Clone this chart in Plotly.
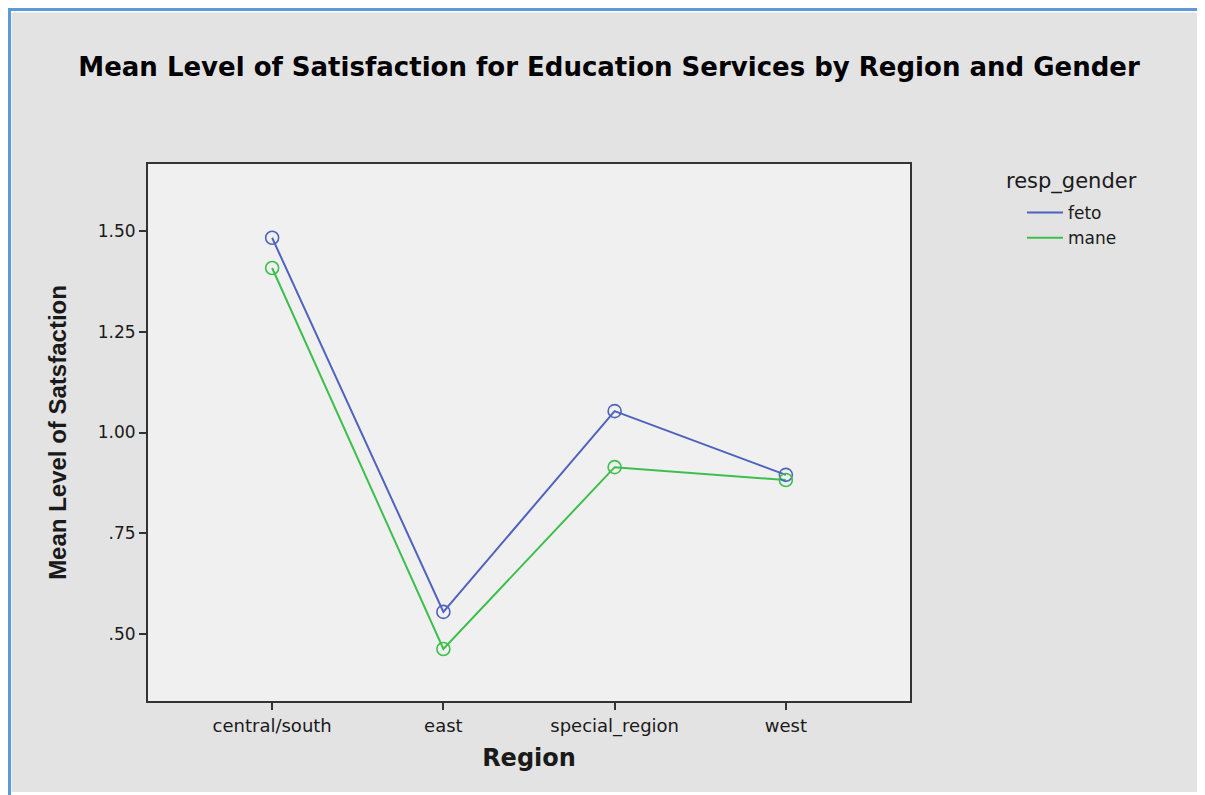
import plotly.graph_objects as go

regions = ["central/south", "east", "special_region", "west"]
feto = [1.483, 0.555, 1.053, 0.895]
mane = [1.408, 0.463, 0.914, 0.882]
y_ticks = [0.50, 0.75, 1.00, 1.25, 1.50]
y_tick_text = [".50", ".75", "1.00", "1.25", "1.50"]

OFF = 8  # page body margin
W, H = 1205 - OFF, 795 - OFF
# plot area in reference pixel coordinates
PL, PR, PT, PB = 148, 910, 164, 701
L, R, T, B = PL - OFF, W - (PR - OFF), PT - OFF, H - (PB - OFF)
PW, PH = W - L - R, H - T - B

def px_x(p):  # reference px -> paper
    return (p - OFF - L) / PW

def px_y(p):
    return (H - B - (p - OFF)) / PH

BLUE = "#4F63BE"
GREEN = "#3CBF4C"
wide = "DejaVu Sans, Verdana, sans-serif"
arial = "Liberation Sans, Arial, sans-serif"
txt = "#1a1a1a"

fig = go.Figure()
for name, vals, col in (("feto", feto, BLUE), ("mane", mane, GREEN)):
    fig.add_trace(go.Scatter(
        x=regions, y=vals, name=name, mode="lines",
        line=dict(color=col, width=2),
    ))
for name, vals, col in (("feto", feto, BLUE), ("mane", mane, GREEN)):
    fig.add_trace(go.Scatter(
        x=regions, y=vals, name=name, mode="markers", showlegend=False,
        marker=dict(symbol="circle-open", size=13, color=col, line=dict(width=1.6)),
    ))

shapes = [
    dict(type="rect", xref="paper", yref="paper", x0=px_x(0), x1=px_x(11.5), y0=px_y(800), y1=px_y(0),
         fillcolor="white", line=dict(width=0), layer="above"),
    dict(type="rect", xref="paper", yref="paper", x0=px_x(0), x1=px_x(1210), y0=px_y(12.5), y1=px_y(0),
         fillcolor="white", line=dict(width=0), layer="above"),
    dict(type="rect", xref="paper", yref="paper", x0=px_x(1203), x1=px_x(1210), y0=px_y(800), y1=px_y(0),
         fillcolor="white", line=dict(width=0), layer="above"),
    dict(type="rect", xref="paper", yref="paper", x0=px_x(0), x1=px_x(1210), y0=px_y(800), y1=px_y(792),
         fillcolor="white", line=dict(width=0), layer="above"),
    dict(type="rect", xref="paper", yref="paper", x0=px_x(0), x1=px_x(1210), y0=px_y(11), y1=px_y(0),
         fillcolor="#5B9BD5", line=dict(width=0), layer="above"),
    dict(type="rect", xref="paper", yref="paper", x0=px_x(0), x1=px_x(11), y0=px_y(800), y1=px_y(0),
         fillcolor="#5B9BD5", line=dict(width=0), layer="above"),
]

annotations = [
    dict(text="resp_gender", xref="paper", yref="paper", x=px_x(1004), y=px_y(181),
         xanchor="left", yanchor="middle", showarrow=False,
         font=dict(family=wide, size=21, color=txt)),
]

fig.update_layout(
    width=W, height=H,
    margin=dict(l=L, r=R, t=T, b=B, autoexpand=False),
    paper_bgcolor="#E3E3E3",
    plot_bgcolor="#F0F0F0",
    font=dict(family=wide, color=txt),
    title=dict(
        text="<b>Mean Level of Satisfaction for Education Services by Region and Gender</b>",
        x=(609 - OFF) / W, xref="container", xanchor="center",
        y=1 - (67 - OFF) / H, yref="container", yanchor="middle",
        font=dict(size=26, color="black", family=wide),
    ),
    xaxis=dict(
        type="category",
        range=[-0.725, 3.725],
        showline=True, mirror=True, linecolor="#333333", linewidth=2,
        ticks="outside", ticklen=7, tickcolor="#333333", tickwidth=2,
        showgrid=False, zeroline=False,
        tickfont=dict(size=18, color=txt, family=wide),
        title=dict(text="<b>Region</b>", font=dict(size=24, color=txt, family=wide), standoff=14),
    ),
    yaxis=dict(
        range=[0.334, 1.666],
        tickvals=y_ticks, ticktext=y_tick_text,
        showline=True, mirror=True, linecolor="#333333", linewidth=2,
        ticks="outside", ticklen=7, tickcolor="#333333", tickwidth=2,
        showgrid=False, zeroline=False,
        tickfont=dict(size=17, color=txt, family=wide),
        title=dict(text="<b>Mean Level of Satsfaction</b>", font=dict(size=24, color=txt, family=arial), standoff=24),
    ),
    legend=dict(
        x=px_x(1022), y=px_y(195), xanchor="left", yanchor="top",
        bgcolor="rgba(0,0,0,0)", borderwidth=0,
        font=dict(size=17, color=txt, family=wide),
        tracegroupgap=0,
        itemwidth=36,
    ),
    shapes=shapes,
    annotations=annotations,
)

fig.write_html("out.html")
